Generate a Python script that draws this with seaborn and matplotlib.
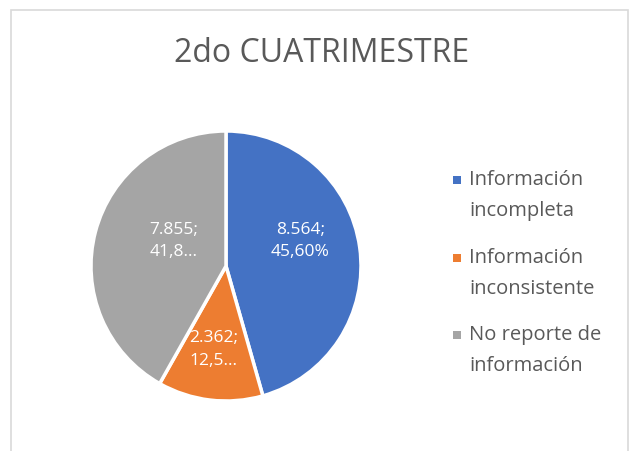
import matplotlib
matplotlib.use("Agg")
import matplotlib.pyplot as plt
import seaborn as sns
from matplotlib.patches import Rectangle

# data
categories = ["Información\nincompleta", "Información\ninconsistente", "No reporte de\ninformación"]
values = [8564, 2362, 7855]
value_labels = ["8.564;\n45,60%", "2.362;\n12,5…", "7.855;\n41,8…"]
colors = ["#4472C4", "#ED7D31", "#A5A5A5"]
title = "2do CUATRIMESTRE"

sns.set_theme(style="white")
plt.rcParams["font.family"] = ["Open Sans", "DejaVu Sans"]

W, H = 636, 451
fig = plt.figure(figsize=(W / 100, H / 100), dpi=100)
fig.patch.set_facecolor("white")

# chart frame
fig.patches.append(Rectangle((11 / W, -0.05), 617 / W, 1 - 10 / H + 0.05,
                             transform=fig.transFigure, fill=False,
                             edgecolor="#D9D9D9", linewidth=1.2))

ax = fig.add_axes([(226 - 135) / W, 1 - (266 + 135) / H, 270 / W, 270 / H])
wedges, _ = ax.pie(values, colors=colors, startangle=90, counterclock=False,
                   wedgeprops=dict(edgecolor="white", linewidth=2.5))
ax.set_xlim(-1, 1)
ax.set_ylim(-1, 1)
ax.set_aspect("equal")

# data labels, placed like Excel's best fit
label_pos = [(0.55, 0.185), (-0.09, -0.62), (-0.385, 0.185)]
for (x, y), txt in zip(label_pos, value_labels):
    ax.text(x, y, txt, color="white", ha="center", va="center",
            fontsize=12.5, linespacing=1.55)

fig.text(322 / W, 1 - 54 / H, title, ha="center", va="center",
         fontsize=23, color="#595959")

# legend (marker aligned with the first line, as Excel does)
leg_y = [180, 258, 335]
for c, lab, y in zip(colors, categories, leg_y):
    fig.patches.append(Rectangle((453 / W, 1 - (y + 4) / H), 8 / W, 8 / H,
                                 transform=fig.transFigure, facecolor=c,
                                 edgecolor="none"))
    fig.text(469 / W, 1 - (y - 10) / H, lab, ha="left", va="top",
             fontsize=14.5, color="#595959", linespacing=1.75)

fig.savefig("out.png", dpi=100)
